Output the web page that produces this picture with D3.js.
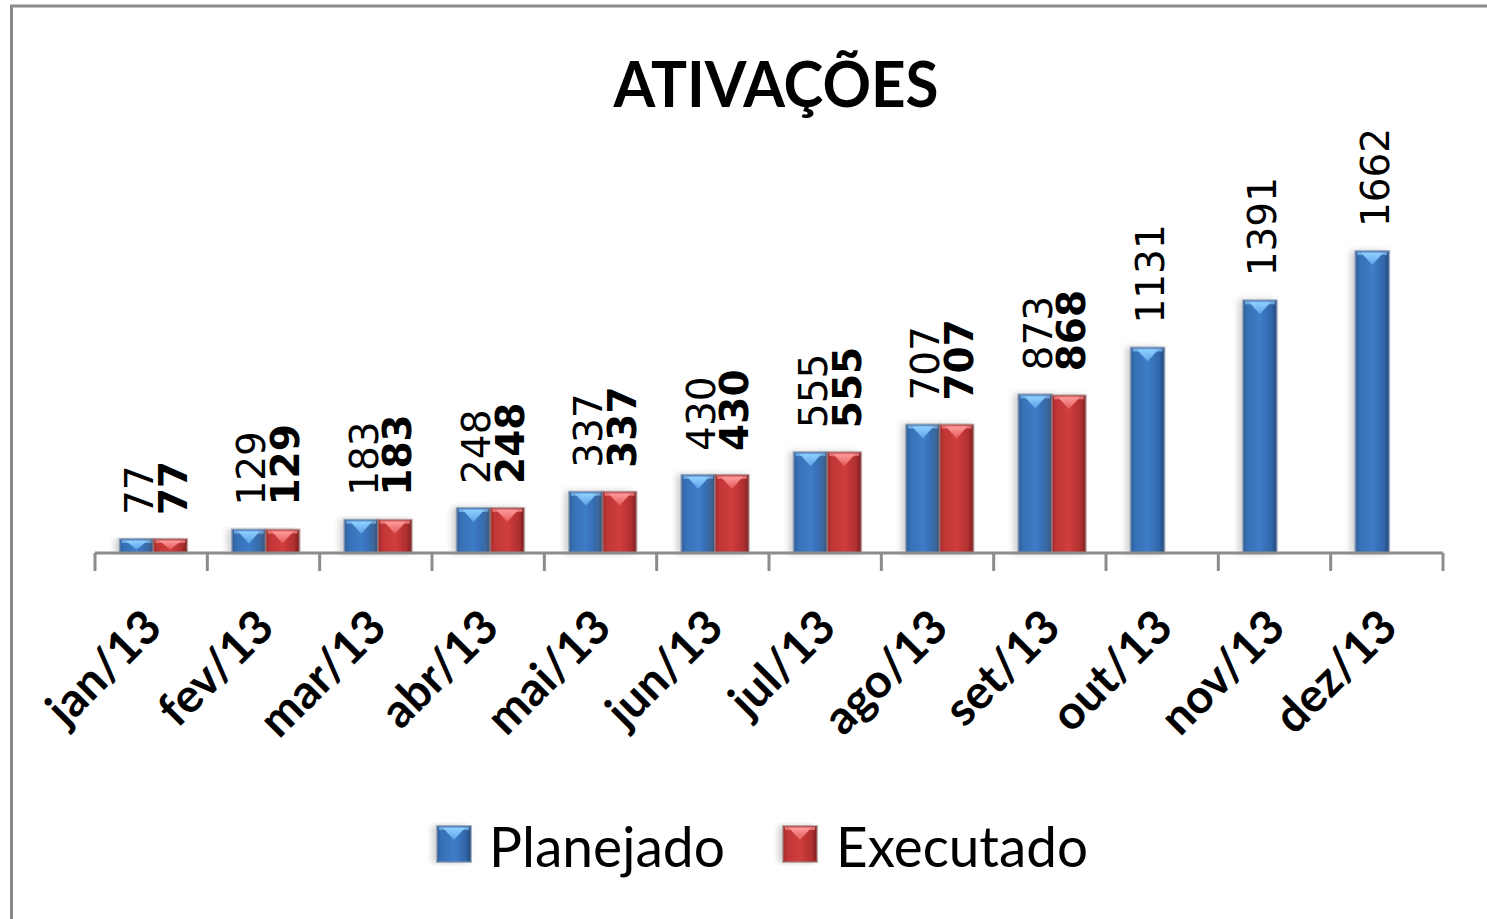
<!DOCTYPE html>
<html><head><meta charset="utf-8">
<script src="https://cdn.jsdelivr.net/npm/d3@7"></script>
<style>html,body{margin:0;padding:0;background:#fff;}svg{display:block;}</style>
</head><body>
<script>
const categories = ["jan/13","fev/13","mar/13","abr/13","mai/13","jun/13","jul/13","ago/13","set/13","out/13","nov/13","dez/13"];
const planejado = [77,129,183,248,337,430,555,707,873,1131,1391,1662];
const executado = [77,129,183,248,337,430,555,707,868,null,null,null];
const seriesNames = ["Planejado","Executado"];
const titleText = "ATIVAÇÕES";

const W = 1487, H = 919;
const svg = d3.select("body").append("svg").attr("width", W).attr("height", H);
const defs = svg.append("defs");

function grad(id, stops) {
  const g = defs.append("linearGradient").attr("id", id).attr("x1","0").attr("x2","1").attr("y1","0").attr("y2","0");
  stops.forEach(s => g.append("stop").attr("offset", s[0]).attr("stop-color", s[1]));
}
grad("gBlue", [["0","#2b5b98"],["0.12","#3670b5"],["0.5","#3d7cc8"],["0.85","#3266a9"],["1","#1f4677"]]);
grad("gRed", [["0","#a02828"],["0.12","#c03535"],["0.5","#d03e3e"],["0.85","#b02f2f"],["1","#7a1e1e"]]);
function vgrad(id, c1, c2) {
  const g = defs.append("linearGradient").attr("id", id).attr("x1","0").attr("x2","0").attr("y1","0").attr("y2","1");
  g.append("stop").attr("offset","0").attr("stop-color", c1);
  g.append("stop").attr("offset","1").attr("stop-color", c2);
}
vgrad("tBlue", "#8fd0ff", "#5aa2e6");
vgrad("tRed", "#ff9a9a", "#e25a5a");
const f = defs.append("filter").attr("id","shadow").attr("x","-30%").attr("y","-10%").attr("width","160%").attr("height","120%");
f.append("feDropShadow").attr("dx",-4).attr("dy",0).attr("stdDeviation",3).attr("flood-color","#777").attr("flood-opacity",0.35);

// frame
svg.append("path").attr("d","M11.5,919 L11.5,6 L1487,6").attr("fill","none").attr("stroke","#8a8a8a").attr("stroke-width",3);

const x = d3.scaleBand().domain(categories).range([95, 1443]).paddingInner(0).paddingOuter(0);
const bw = x.bandwidth();
const xs = d3.scaleBand().domain(seriesNames).range([bw*0.22, bw*0.82]);
const y = d3.scaleLinear().domain([0, 1800]).range([553, 226]);

const fills = {Planejado: ["url(#gBlue)","url(#tBlue)","rgba(120,140,170,0.65)"], Executado: ["url(#gRed)","url(#tRed)","rgba(160,120,120,0.6)"]};

function drawBar(g, bx, top, w, h, s) {
  const grp = g.append("g").attr("filter","url(#shadow)");
  grp.append("rect").attr("x", bx).attr("y", top).attr("width", w).attr("height", h)
    .attr("fill", fills[s][0]).attr("stroke", fills[s][2]).attr("stroke-width", 2);
  const th = Math.min(12, h*0.6);
  grp.append("rect").attr("x", bx+2).attr("y", top+1).attr("width", w-4).attr("height", Math.min(3, h*0.25))
    .attr("fill", s === "Planejado" ? "#7ab8ee" : "#f08080").attr("opacity",0.8);
  grp.append("path")
    .attr("d", `M${bx+w*0.18},${top+2} L${bx+w*0.82},${top+2} L${bx+w*0.5},${top+2+th} Z`)
    .attr("fill", fills[s][1]);
}

const data = [];
categories.forEach((c,i) => {
  data.push({c, s:"Planejado", v: planejado[i]});
  if (executado[i] != null) data.push({c, s:"Executado", v: executado[i]});
});

const barsG = svg.append("g");
data.forEach(d => {
  const bx = x(d.c) + xs(d.s);
  drawBar(barsG, bx, y(d.v), xs.bandwidth(), y(0) - y(d.v), d.s);
});

// axis
const axisG = svg.append("g").attr("transform","translate(0,553)");
axisG.append("line").attr("x1",95).attr("x2",1443).attr("y1",0).attr("y2",0).attr("stroke","#8c8c8c").attr("stroke-width",3);
const tickPos = categories.map(c => x(c)).concat([x(categories[categories.length-1]) + bw]);
axisG.selectAll("line.tick").data(tickPos).enter().append("line").attr("class","tick")
  .attr("x1", d => d).attr("x2", d => d).attr("y1", 0).attr("y2", 18)
  .attr("stroke","#8c8c8c").attr("stroke-width",3);

// category labels
svg.append("g").selectAll("text").data(categories).enter().append("text")
  .attr("transform", d => `translate(${x(d) + bw/2 + 13},${630}) rotate(-45)`)
  .attr("text-anchor","end")
  .attr("font-family","Lato, 'Open Sans', sans-serif").attr("font-weight","bold").attr("font-size",47)
  .attr("fill","#000").text(d => d);

// value labels
const lblG = svg.append("g");
data.forEach(d => {
  const cx = x(d.c) + xs(d.s) + xs.bandwidth()/2 + 2;
  lblG.append("text")
    .attr("transform", `translate(${cx},${y(d.v) - 24}) rotate(-90)`)
    .attr("dy","0.37em")
    .attr("font-family","'DejaVu Sans', sans-serif")
    .attr("font-weight", d.s === "Executado" ? "bold" : "normal")
    .attr("font-size",39).attr("fill","#000").text(d.v);
});

// title
svg.append("text").attr("x", 776).attr("y", 107).attr("text-anchor","middle")
  .attr("font-family","Lato, sans-serif").attr("font-weight","bold").attr("font-size",64)
  .attr("textLength",325).attr("lengthAdjust","spacingAndGlyphs").text(titleText);

// legend
const legItems = [{s:"Planejado", sx:437, tx:489, tl:236}, {s:"Executado", sx:783, tx:836, tl:252}];
legItems.forEach(li => {
  const g = svg.append("g");
  drawBar(g, li.sx, 826, 34, 36, li.s);
  g.append("text").attr("x", li.tx).attr("y", 867)
    .attr("font-family","Lato, sans-serif").attr("font-size",57)
    .attr("textLength", li.tl).attr("lengthAdjust","spacingAndGlyphs").text(li.s);
});
</script>
</body></html>
